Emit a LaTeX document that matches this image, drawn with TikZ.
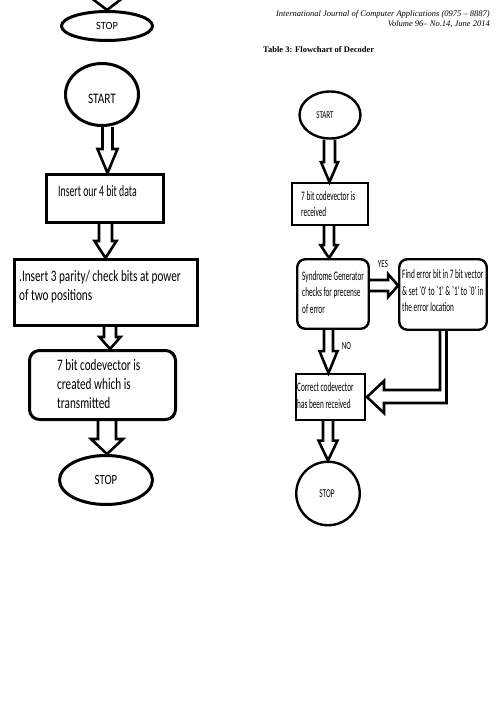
\documentclass[tikz,border=0pt]{standalone}
\usepackage{fontspec}
\usepackage{graphicx}
\usetikzlibrary{shapes.geometric,calc}
\newfontfamily\calfont{Carlito}
\newfontfamily\hdrfont{Liberation Serif}
\newcommand\sqz[4]{\scalebox{#1}[1]{\calfont\fontsize{#2}{#3}\selectfont\begin{tabular}{@{}l@{}}#4\end{tabular}}}
% hollow down arrow: from node, to node, x centre, shaft half width, head half width, head length
\newcommand\hdown[6]{%
  \draw[harrow] let \p1=(#1.south), \p2=(#2.north) in
   (#3pt-#4pt,\y1) -- (#3pt-#4pt,\y2+#6pt) -- (#3pt-#5pt,\y2+#6pt) -- (#3pt,\y2)
   -- (#3pt+#5pt,\y2+#6pt) -- (#3pt+#4pt,\y2+#6pt) -- (#3pt+#4pt,\y1);}
\tikzset{
  harrow/.style={draw=black, line width=2.6pt, line join=miter},
  lbox/.style={draw=black, rectangle, line width=3pt, inner sep=0pt},
  lrbox/.style={lbox, rounded corners=10pt},
  rbox/.style={draw=black, rectangle, line width=2.4pt, inner sep=0pt},
  rrbox/.style={rbox, rounded corners=8pt},
  lell/.style={draw=black, ellipse, line width=3pt, inner sep=0pt},
  rell/.style={draw=black, ellipse, line width=2.4pt, inner sep=0pt},
  txt/.style={inner sep=0pt, anchor=west},
  ctxt/.style={inner sep=0pt},
}
\begin{document}
\begin{tikzpicture}[x=1pt, y=-1pt]
\useasboundingbox (0,0) rectangle (498,715);

% ---------- header ----------
\node[inner sep=0pt, anchor=east] (hdr1) at (490,14) {\hdrfont\itshape\fontsize{8.5}{10}\selectfont International Journal of Computer Applications (0975 – 8887)};
\node[inner sep=0pt, anchor=east] (hdr2) at (490,24) {\hdrfont\itshape\fontsize{8.5}{10}\selectfont Volume 96– No.14, June 2014};
\node[inner sep=0pt, anchor=west] (tbl) at (263,50) {\hdrfont\bfseries\fontsize{8.5}{10}\selectfont Table 3: Flowchart of Decoder};

% ---------- left column ----------
\node[lell, minimum width=91pt, minimum height=29pt] (topstop) at (107,26) {};
\node[ctxt] (topstoptxt) at (107,26) {\scalebox{0.95}[1]{\calfont\fontsize{11}{13}\selectfont STOP}};
\coordinate (tl) at (90,-3);
\coordinate (tr) at (124,-3);
\draw[line width=2.6pt, line join=miter] (tl) -- (topstop.north) -- (tr);

\node[lell, minimum width=73pt, minimum height=62pt] (lstart) at (102,94.5) {};
\node[ctxt] (lstarttxt) at (102,99) {\scalebox{0.78}[1]{\calfont\fontsize{14.5}{16}\selectfont START}};

\node[lbox, minimum width=117pt, minimum height=48pt] (b1) at (105,198.5) {};
\node[txt] (b1t) at (58,193) {\sqz{0.61}{16}{19}{Insert our 4 bit data}};

\node[lbox, minimum width=183pt, minimum height=66pt] (b2) at (106,292.5) {};
\node[txt] (b2t) at (19,287.5) {\sqz{0.7}{16}{19}{.Insert 3 parity/ check bits at power\\ of two positions}};

\node[lrbox, minimum width=146pt, minimum height=69pt] (b3) at (102.5,385) {};
\node[txt] (b3t) at (57,386) {\sqz{0.7}{16}{19}{7 bit codevector is\\created which is\\transmitted}};

\node[lell, minimum width=93pt, minimum height=49pt] (lstop) at (106,480) {};
\node[ctxt] (lstoptxt) at (106,480) {\scalebox{0.77}[1]{\calfont\fontsize{14}{16}\selectfont STOP}};

\hdown{lstart}{b1}{107.5}{5}{10}{24}
\hdown{b1}{b2}{105.5}{6.5}{11}{17}
\hdown{b2}{b3}{110}{6}{10.5}{12}
\hdown{b3}{lstop}{107}{9}{16}{15}

% ---------- right column ----------
\node[rell, minimum width=61pt, minimum height=47pt] (rstart) at (330,115) {};
\node[ctxt] (rstarttxt) at (325,115) {\scalebox{0.67}[1]{\calfont\fontsize{10.5}{12}\selectfont START}};

\node[rbox, minimum width=75.5pt, minimum height=41.5pt] (r1) at (330,204) {};
\node[txt] (r1t) at (301,205) {\sqz{0.56}{13}{16}{7 bit codevector is\\received}};

\node[rrbox, minimum width=71.5pt, minimum height=69.5pt] (syn) at (333,294) {};
\node[txt] (synt) at (302,293.5) {\sqz{0.56}{13}{16.5}{Syndrome Generator\\checks for precense\\of error}};

\node[rrbox, minimum width=87.5pt, minimum height=70.5pt] (find) at (443,294.5) {};
\node[txt] (findt) at (402,292) {\sqz{0.56}{13}{16.5}{Find error bit in 7 bit vector\\\& set `0' to `1' \& `1' to `0' in\\the error location}};

\node[rbox, minimum width=68.5pt, minimum height=45.5pt] (corr) at (330.5,397) {};
\node[txt] (corrt) at (297,396.5) {\sqz{0.56}{13}{17}{Correct codevector\\has been received}};

\node[draw=black, circle, line width=2.4pt, inner sep=0pt, minimum size=63.5pt] (rstop) at (328,493.5) {};
\node[ctxt] (rstoptxt) at (327,494) {\scalebox{0.6}[1]{\calfont\fontsize{12}{14}\selectfont STOP}};

\node[ctxt] (yes) at (383,264) {\scalebox{0.64}[1]{\calfont\fontsize{11}{13}\selectfont YES}};
\node[ctxt] (no) at (346.5,346) {\scalebox{0.64}[1]{\calfont\fontsize{11}{13}\selectfont NO}};

\hdown{rstart}{r1}{329.5}{5.5}{8.5}{20}
\hdown{r1}{syn}{329}{5}{8.5}{13}
\hdown{syn}{corr}{328.5}{4.5}{9}{22}
\hdown{corr}{rstop}{328}{5}{9.5}{20}

% YES arrow (right)
\draw[harrow] let \p1=(syn.east), \p2=(find.west) in
  (\x1,-280pt) -- (\x2-10pt,-280pt) -- (\x2-10pt,-274pt) -- (\x2,-285.5pt)
  -- (\x2-10pt,-297pt) -- (\x2-10pt,-291pt) -- (\x1,-291pt);

% elbow arrow from find box to correct box
\draw[harrow] let \p1=(find.south), \p2=(corr.east) in
  (\x1-3pt,\y1) -- (\x1-3pt,\y2+7pt) -- (\x2+18pt,\y2+7pt) -- (\x2+18pt,\y2+16pt)
  -- (\x2+1pt,\y2) -- (\x2+18pt,\y2-16pt) -- (\x2+18pt,\y2-6pt)
  -- (\x1+3.5pt,\y2-6pt) -- (\x1+3.5pt,\y1);
\end{tikzpicture}
\end{document}
